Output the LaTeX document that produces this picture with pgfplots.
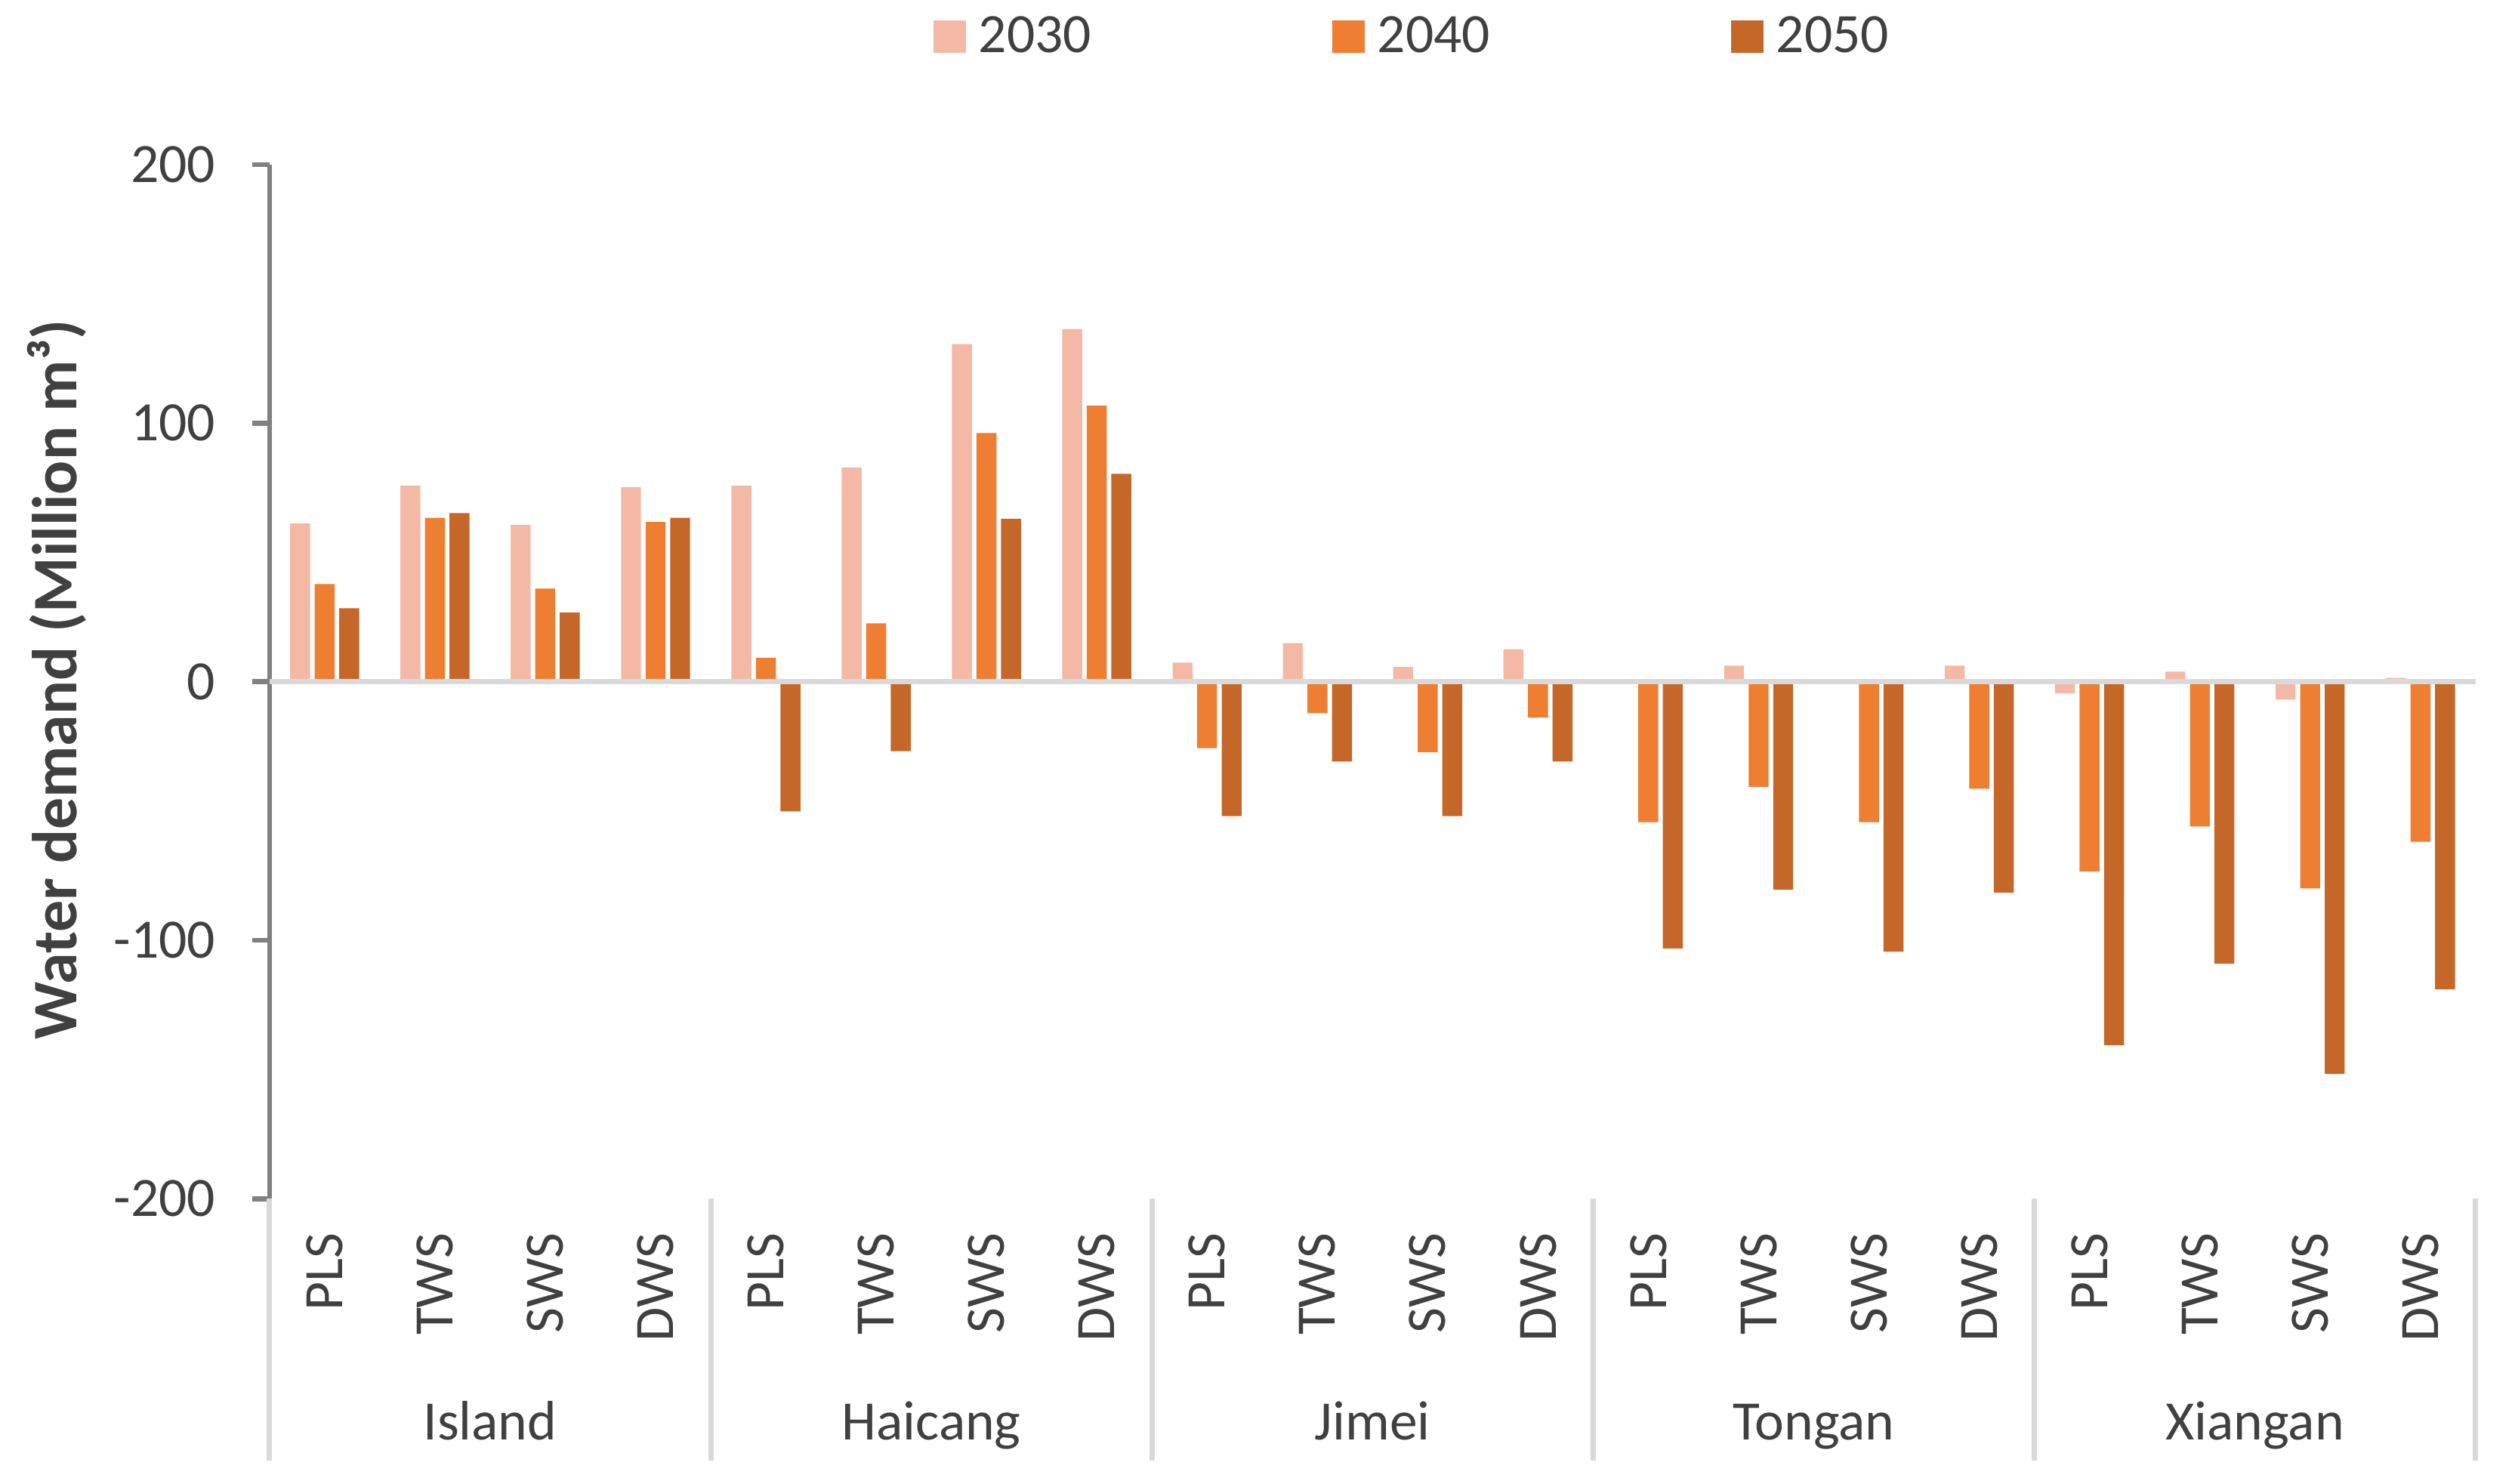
\documentclass[border=0pt]{standalone}
\usepackage{fontspec}
\setmainfont{Carlito}
\usepackage{pgfplots}
\pgfplotsset{compat=1.18}

\definecolor{c30}{HTML}{F4B9A6}
\definecolor{c40}{HTML}{ED7E32}
\definecolor{c50}{HTML}{C56729}
\definecolor{axgray}{HTML}{808080}
\definecolor{sepgray}{HTML}{D9D9D9}
\definecolor{txt}{HTML}{404040}

% water demand gap per scenario, 2030 / 2040 / 2050
\pgfplotstableread{
x  y30    y40    y50
0  61.2   37.8   28.4
1  75.8   63.4   65.2
2  60.6   36.0   26.7
3  75.2   61.8   63.4
4  75.8   9.2    -50.2
5  82.8   22.6   -26.9
6  130.6  96.2   63.0
7  136.4  106.8  80.4
8  7.4    -25.7  -52.0
9  14.9   -12.2  -30.9
10 5.7    -27.3  -52.0
11 12.6   -13.9  -30.9
12 0.0    -54.3  -103.2
13 6.2    -40.7  -80.5
14 0.0    -54.3  -104.4
15 6.2    -41.4  -81.6
16 -4.5   -73.4  -140.6
17 3.9    -56.0  -109.1
18 -6.9   -80.0  -151.7
19 1.5    -61.9  -119.0
}\demand

\pgfplotsset{sqlegend/.style={legend image code/.code={%
  \fill[##1] (0pt,-5.375pt) rectangle (10.75pt,5.375pt);}}}
\tikzset{grp/.style={anchor=base, font=\fontsize{18.4}{22}\selectfont, text=txt, yshift=-79.9pt}}

\begin{document}
\begin{tikzpicture}
\path[use as bounding box] (0,0) rectangle (831.5pt,-491pt);
\begin{axis}[
  at={(89.2pt,-396.8pt)}, anchor=south west,
  scale only axis, width=730.25pt, height=342.3pt,
  xmin=-0.5, xmax=19.5, ymin=-200, ymax=200,
  ybar, bar width=0.181,
  axis x line*=bottom, axis y line*=left,
  x axis line style={draw=none},
  y axis line style={draw=axgray, line width=1.65pt, -},
  tick align=outside, major tick length=5.75pt,
  ytick={-200,-100,0,100,200},
  yticklabels={-200,-100,0,100,200},
  ytick style={draw=axgray, line width=1.65pt},
  xtick={0,...,19},
  xticklabels={PLS,TWS,SWS,DWS,PLS,TWS,SWS,DWS,PLS,TWS,SWS,DWS,
               PLS,TWS,SWS,DWS,PLS,TWS,SWS,DWS},
  xtick style={draw=none},
  extra x ticks={-0.5,3.5,7.5,11.5,15.5,19.5},
  extra x tick labels={},
  extra x tick style={xtick style={draw=sepgray, line width=1.75pt},
                      major tick length=86.7pt},
  ticklabel style={font=\fontsize{18.4}{22}\selectfont, text=txt},
  % rotated labels: xshift runs along the text, i.e. downwards on the page
  xticklabel style={rotate=90, anchor=east, inner sep=0pt, xshift=-5.5pt},
  yticklabel style={anchor=east, inner sep=0pt, xshift=-12pt},
  ylabel={Water demand (Million m³)},
  ylabel style={font=\bfseries\fontsize{21}{24}\selectfont, text=txt,
                at={(axis description cs:-0.0965,0.502)}, anchor=center},
  legend columns=3,
  legend style={draw=none, fill=none, at={(0.5175,1.124)}, anchor=center,
                font=\fontsize{18.4}{22}\selectfont, text=txt,
                nodes={inner sep=0pt},
                /tikz/every odd column/.append style={column sep=4.2pt},
                /tikz/every even column/.append style={column sep=79.75pt}},
  legend cell align=left,
  clip=false,
]
\addplot[fill=c30, draw=none, bar shift=-0.2225, sqlegend]
  table[x=x, y=y30] {\demand};
\addlegendentry{2030}
\addplot[fill=c40, draw=none, bar shift=0, sqlegend]
  table[x=x, y=y40] {\demand};
\addlegendentry{2040}
\addplot[fill=c50, draw=none, bar shift=0.2225, sqlegend]
  table[x=x, y=y50] {\demand};
\addlegendentry{2050}

% horizontal zero line sits over the bars
\draw[sepgray, line width=1.75pt] (axis cs:-0.5,0) -- (axis cs:19.5,0);

\node[grp] at (axis cs:1.5,-200) {Island};
\node[grp] at (axis cs:5.5,-200) {Haicang};
\node[grp] at (axis cs:9.5,-200) {Jimei};
\node[grp] at (axis cs:13.5,-200) {Tongan};
\node[grp] at (axis cs:17.5,-200) {Xiangan};
\end{axis}
\end{tikzpicture}
\end{document}
